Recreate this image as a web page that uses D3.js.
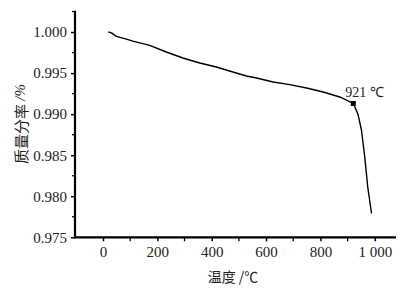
<!DOCTYPE html>
<html><head><meta charset="utf-8">
<script src="https://cdn.jsdelivr.net/npm/d3@7"></script>
<style>
html,body{margin:0;padding:0;background:#fff;}
svg{display:block;}
</style></head>
<body>
<svg id="c" width="405" height="289"></svg>
<script>
// Data
const temps  = [20, 31, 49, 80, 110, 172, 233, 294, 356, 417, 478, 528, 565, 626, 687, 749, 810, 871, 921, 938, 951, 963, 974, 988];
const masses = [1.0000, 0.9999, 0.99948, 0.9992, 0.9989, 0.99838, 0.99757, 0.99684, 0.99623, 0.99574, 0.99513, 0.99465, 0.9944, 0.99392, 0.9936, 0.99319, 0.9927, 0.99209, 0.9913, 0.9900, 0.98804, 0.98479, 0.98114, 0.9779];
const markerT = [921];
const markerM = [0.9913];
const markerLabel = ["921 \u2103"];
const xTickValues = [0, 200, 400, 600, 800, 1000];
const xTickLabels = ["0", "200", "400", "600", "800", "1 000"];
const xMinorTicks = [100, 300, 500, 700, 900];
const yTickValues = [0.975, 0.980, 0.985, 0.990, 0.995, 1.000];
const yTickLabels = ["0.975", "0.980", "0.985", "0.990", "0.995", "1.000"];
const yMinorTicks = [0.9775, 0.9825, 0.9875, 0.9925, 0.9975, 1.0025];
const xTitle = "温度 /℃";
const yTitleMain = "质量分率 ";
const yTitleUnit = "/%";

const SERIF = "Liberation Serif";
const CJK = "Noto Sans CJK SC";

const svg = d3.select("#c");
const L = 75, R = 396, T = 10.7, B = 237.3;
const x = d3.scaleLinear().domain([-103, 1078]).range([L, R]);
const y = d3.scaleLinear().domain([0.975, 1.0026]).range([B, T]);

// Y axis
const yAxis = d3.axisLeft(y).tickValues(yTickValues).tickSize(4).tickPadding(4)
  .tickFormat((d,i)=>yTickLabels[i]);
const gy = svg.append("g").attr("transform",`translate(${L},0)`).call(yAxis);
gy.attr("font-family",SERIF).attr("font-size",15);
gy.select(".domain").remove();
gy.selectAll(".tick line").attr("stroke","#000").attr("stroke-width",1.5);
gy.selectAll(".tick text").style("font-family",SERIF).style("font-size","15px").attr("fill","#222");
svg.append("g").selectAll("line").data(yMinorTicks).join("line")
  .attr("x1",L-3).attr("x2",L).attr("y1",d=>y(d)).attr("y2",d=>y(d))
  .attr("stroke","#000").attr("stroke-width",1.3);

// X axis
const xAxis = d3.axisBottom(x).tickValues(xTickValues).tickSize(4).tickPadding(5)
  .tickFormat((d,i)=>xTickLabels[i]);
const gx = svg.append("g").attr("transform",`translate(0,${B})`).call(xAxis);
gx.attr("font-family",SERIF).attr("font-size",15);
gx.select(".domain").remove();
gx.selectAll(".tick line").attr("stroke","#000").attr("stroke-width",1.5);
gx.selectAll(".tick text").style("font-family",SERIF).style("font-size","15px").attr("fill","#222");
svg.append("g").selectAll("line").data(xMinorTicks).join("line")
  .attr("x1",d=>x(d)).attr("x2",d=>x(d)).attr("y1",B).attr("y2",B+4)
  .attr("stroke","#000").attr("stroke-width",1.3);

// axis lines
svg.append("line").attr("x1",L).attr("x2",L).attr("y1",T).attr("y2",B+1)
  .attr("stroke","#000").attr("stroke-width",2.2);
svg.append("line").attr("x1",L-1).attr("x2",R).attr("y1",B).attr("y2",B)
  .attr("stroke","#000").attr("stroke-width",2.2);

// curve
const pts = temps.map((t,i)=>[t,masses[i]]);
svg.append("path").datum(pts)
  .attr("d", d3.line().x(d=>x(d[0])).y(d=>y(d[1])))
  .attr("fill","none").attr("stroke","#000").attr("stroke-width",1.4)
  .attr("stroke-linejoin","round");

// marker
svg.append("g").selectAll("rect").data(markerT).join("rect")
  .attr("x",(d)=>x(d)-2.5).attr("y",(d,i)=>y(markerM[i])-2.5)
  .attr("width",5).attr("height",5).attr("fill","#000");
svg.append("g").selectAll("text").data(markerT).join("text")
  .attr("x",d=>x(d)-8).attr("y",(d,i)=>y(markerM[i])-6)
  .style("font-family",SERIF).style("font-size","14px").attr("fill","#222")
  .text((d,i)=>markerLabel[i]);

// titles
svg.append("text").attr("x",233).attr("y",276).attr("text-anchor","middle")
  .attr("dominant-baseline","central").style("font-family",CJK).style("font-size","14px")
  .attr("fill","#222").text(xTitle);
const yt = svg.append("text").attr("transform","translate(20,124) rotate(-90)")
  .attr("text-anchor","middle").attr("dominant-baseline","central")
  .style("font-family",CJK).style("font-size","15px").attr("fill","#222");
yt.append("tspan").text(yTitleMain);
yt.append("tspan").style("font-family",SERIF).style("font-style","italic").text(yTitleUnit);
</script>
</body></html>
